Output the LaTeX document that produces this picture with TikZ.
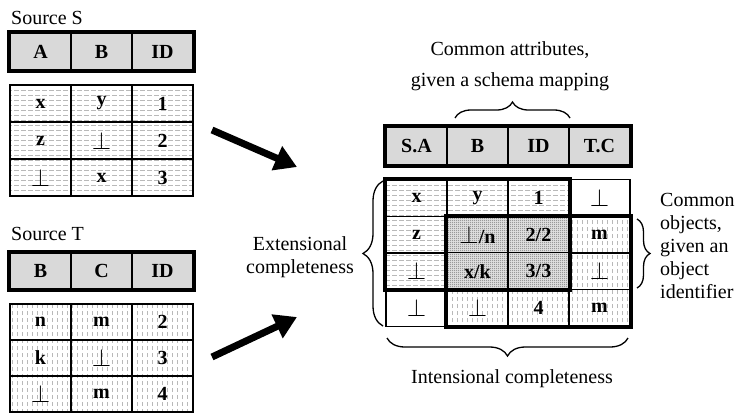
\documentclass[tikz,border=0pt]{standalone}
\usepackage{fontspec}
\setmainfont{Liberation Serif}
\usetikzlibrary{arrows.meta}
\usetikzlibrary{patterns}
\usetikzlibrary{decorations.pathreplacing}

\newcommand{\nil}{{\fontsize{24}{24}\selectfont$\bot$}}

\pgfdeclarepatternformonly{hdash}{\pgfpoint{-1pt}{-1pt}}{\pgfpoint{8pt}{6pt}}{\pgfpoint{7pt}{5pt}}{
  \pgfsetlinewidth{0.6pt}
  \pgfpathmoveto{\pgfpoint{0pt}{2.5pt}}
  \pgfpathlineto{\pgfpoint{4.5pt}{2.5pt}}
  \pgfusepath{stroke}}
\pgfdeclarepatternformonly{vdash}{\pgfpoint{-1pt}{-1pt}}{\pgfpoint{6pt}{8pt}}{\pgfpoint{5pt}{7pt}}{
  \pgfsetlinewidth{0.6pt}
  \pgfpathmoveto{\pgfpoint{2.5pt}{0pt}}
  \pgfpathlineto{\pgfpoint{2.5pt}{4.5pt}}
  \pgfusepath{stroke}}
\pgfdeclarepatternformonly{speckle}{\pgfpoint{-1pt}{-1pt}}{\pgfpoint{3pt}{3pt}}{\pgfpoint{2pt}{2pt}}{
  \pgfpathcircle{\pgfpoint{0.5pt}{0.5pt}}{0.6pt}
  \pgfusepath{fill}}

\begin{document}
\begin{tikzpicture}[x=1pt,y=-1pt]
\tikzset{cell/.style = {draw,line width=1.3pt,minimum width=61pt,minimum height=37pt,inner sep=0pt,font=\fontsize{20}{20}\bfseries\selectfont}}
\tikzset{head/.style = {cell,fill=gray!30}}
\tikzset{fromS/.style = {cell,pattern=hdash,pattern color=gray!55}}
\tikzset{fromT/.style = {cell,pattern=vdash,pattern color=gray!55}}
\tikzset{both/.style = {cell,preaction={fill=gray!25},pattern=speckle,pattern color=gray!80}}
\tikzset{plain/.style = {cell,fill=white}}
\tikzset{frame/.style = {line width=4pt}}
\tikzset{note/.style = {font=\fontsize{20}{23}\selectfont,align=center,inner sep=0pt}}
\tikzset{bigarrow/.style = {line width=7pt,-{Triangle[length=22pt,width=25pt]}}}
\tikzset{curly/.style = {decorate,decoration={brace,amplitude=#1},line width=1.3pt}}
\useasboundingbox (0,0) rectangle (743,413);

% source S
\node[note,anchor=west] (titleS) at (11,18) {Source S};
\node[head] (sA) at (40.5,51.5) {A};
\node[head] (sB) at (101.5,51.5) {B};
\node[head] (sID) at (162.5,51.5) {ID};
\draw[frame] (sA.north west) rectangle (sID.south east);
\foreach \a/\b/\i [count=\r] in {x/y/1, z/\nil/2, \nil/x/3} {
  \node[fromS] (s\r a) at (40.5,66.5+37*\r) {\a};
  \node[fromS] (s\r b) at (101.5,66.5+37*\r) {\b};
  \node[fromS] (s\r i) at (162.5,66.5+37*\r) {\i};
}

% source T
\node[note,anchor=west] (titleT) at (11,234) {Source T};
\node[head] (tB) at (40.5,271) {B};
\node[head] (tC) at (101.5,271) {C};
\node[head] (tID) at (162.5,271) {ID};
\draw[frame] (tB.north west) rectangle (tID.south east);
\foreach \b/\c/\i [count=\r] in {n/m/2, k/\nil/3, \nil/m/4} {
  \node[fromT,minimum height=36pt] (t\r b) at (40.5,286+36*\r) {\b};
  \node[fromT,minimum height=36pt] (t\r c) at (101.5,286+36*\r) {\c};
  \node[fromT,minimum height=36pt] (t\r i) at (162.5,286+36*\r) {\i};
}

% integrated table
\node[head,minimum height=38pt] (hSA) at (416.5,146) {S.A};
\node[head,minimum height=38pt] (hB) at (477.5,146) {B};
\node[head,minimum height=38pt] (hID) at (538.5,146) {ID};
\node[head,minimum height=38pt] (hTC) at (599.5,146) {T.C};
\draw[frame] (hSA.north west) rectangle (hTC.south east);

\tikzset{every node/.append style={minimum height=36.5pt}}
\node[fromS] (u11) at (416.5,198.25) {x};
\node[fromS] (u12) at (477.5,198.25) {y};
\node[fromS] (u13) at (538.5,198.25) {1};
\node[plain] (u14) at (599.5,198.25) {\nil};
\node[fromS] (u21) at (416.5,234.75) {z};
\node[both] (u22) at (477.5,234.75) {\nil/n};
\node[both] (u23) at (538.5,234.75) {2/2};
\node[fromT] (u24) at (599.5,234.75) {m};
\node[fromS] (u31) at (416.5,271.25) {\nil};
\node[both] (u32) at (477.5,271.25) {x/k};
\node[both] (u33) at (538.5,271.25) {3/3};
\node[fromT] (u34) at (599.5,271.25) {\nil};
\node[plain] (u41) at (416.5,307.75) {\nil};
\node[fromT] (u42) at (477.5,307.75) {\nil};
\node[fromT] (u43) at (538.5,307.75) {4};
\node[fromT] (u44) at (599.5,307.75) {m};
\draw[frame] (u11.north west) rectangle (u33.south east);
\draw[frame] (u22.north west) rectangle (u44.south east);

% arrows
\coordinate (outS) at (212,130);
\coordinate (inS) at (297,167);
\coordinate (outT) at (212,357);
\coordinate (inT) at (297,317);
\draw[bigarrow] (outS) -- (inS);
\draw[bigarrow] (outT) -- (inT);

% braces and their texts
\draw[curly=16pt] (455,118) -- (570,118);
\node[note,font=\fontsize{20}{31}\selectfont] (attrs) at (510,66) {Common attributes,\\given a schema mapping};
\draw[curly=20pt] (383,326) -- (383,181);
\node[note] (ext) at (300,257) {Extensional\\completeness};
\draw[curly=13pt] (637,219) -- (637,288);
\node[note,anchor=west,align=left] (objs) at (660,246) {Common\\objects,\\given an\\object\\identifier};
\draw[curly=18pt] (628,338) -- (387,338);
\node[note] (intens) at (512,379) {Intensional completeness};
\end{tikzpicture}
\end{document}
